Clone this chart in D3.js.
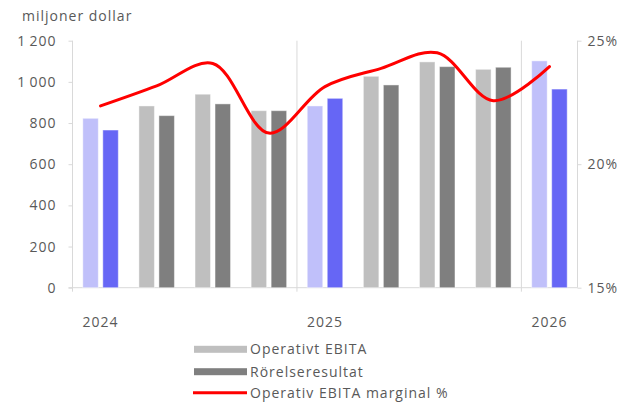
<!DOCTYPE html>
<html><head><meta charset="utf-8">
<script src="https://cdn.jsdelivr.net/npm/d3@7"></script>
<style>
html,body{margin:0;padding:0;background:#fff;}
text{font-family:"Open Sans",sans-serif;fill:#595959;letter-spacing:1px;}
</style></head>
<body>
<svg id="c" width="638" height="406"></svg>
<script>
const categories = ["2024 Q1","2024 Q2","2024 Q3","2024 Q4","2025 Q1","2025 Q2","2025 Q3","2025 Q4","2026 Q1"];
const yearLabels = ["2024","","","","2025","","","","2026"];
const operativtEbita = [823, 883, 940, 860, 883, 1027, 1097, 1061, 1102];
const rorelseresultat = [766, 836, 893, 860, 920, 985, 1074, 1071, 965];
const marginal = [22.36, 23.17, 24.08, 21.26, 23.14, 23.88, 24.51, 22.57, 23.95];
const leftTicks = [0, 200, 400, 600, 800, 1000, 1200];
const rightTicks = [15, 20, 25];
const highlighted = [true, false, false, false, true, false, false, false, true];
const seriesNames = ["Operativt EBITA", "Rörelseresultat", "Operativ EBITA marginal %"];

const svg = d3.select("#c");
const x0 = 72.5, x1 = 577.5, yTop = 40.7, yBot = 287.7;
const axisCol = "#d9d9d9";

const x = d3.scaleBand().domain(d3.range(categories.length)).range([x0, x1]).paddingInner(0).paddingOuter(0);
const xs = d3.scaleBand().domain([0, 1]).range([0, x.bandwidth()]).paddingInner(0.225).paddingOuter(0.515);
const y = d3.scaleLinear().domain([0, 1200]).range([yBot, yTop]);
const y2 = d3.scaleLinear().domain([15, 25]).range([yBot, yTop]);

// vertical year gridlines
[4, 8].forEach(i => {
  svg.append("line").attr("x1", x(i)).attr("x2", x(i)).attr("y1", yTop).attr("y2", yBot + 4)
    .attr("stroke", axisCol).attr("stroke-width", 1);
});

// left axis
const gL = svg.append("g").attr("transform", `translate(${x0},0)`)
  .call(d3.axisLeft(y).tickValues(leftTicks).tickSize(4).tickPadding(12)
    .tickFormat(d => d >= 1000 ? d3.format(",")(d).replace(",", "\u2009") : d));
gL.select(".domain").remove();
gL.selectAll(".tick line").attr("stroke", axisCol);
gL.selectAll(".tick text").style("font-size", "14px").attr("fill", "#595959").attr("font-family", "Open Sans");
svg.append("line").attr("x1", x0).attr("x2", x0).attr("y1", yTop).attr("y2", yBot + 4).attr("stroke", axisCol);

// right axis
const gR = svg.append("g").attr("transform", `translate(${x1},0)`)
  .call(d3.axisRight(y2).tickValues(rightTicks).tickSize(4).tickPadding(6).tickFormat(d => d + "%"));
gR.select(".domain").remove();
gR.selectAll(".tick line").attr("stroke", axisCol);
gR.selectAll(".tick text").style("font-size", "14px").attr("fill", "#595959").attr("font-family", "Open Sans");
svg.append("line").attr("x1", x1).attr("x2", x1).attr("y1", yTop).attr("y2", yBot).attr("stroke", axisCol);

// bottom axis line
svg.append("line").attr("x1", x0 - 4).attr("x2", x1).attr("y1", yBot).attr("y2", yBot).attr("stroke", axisCol);

// bars
const colors = [
  i => highlighted[i] ? "#c0c0fa" : "#bfbfbf",
  i => highlighted[i] ? "#6666f5" : "#7f7f7f"
];
[operativtEbita, rorelseresultat].forEach((vals, s) => {
  svg.append("g").selectAll("rect").data(vals).join("rect")
    .attr("x", (d, i) => x(i) + xs(s))
    .attr("width", xs.bandwidth())
    .attr("y", d => y(d))
    .attr("height", d => y(0) - y(d))
    .attr("fill", (d, i) => colors[s](i))
    .attr("stroke", "#ffffff").attr("stroke-opacity", 0.45).attr("stroke-width", 1);
});

// line
const line = d3.line().x((d, i) => x(i) + x.bandwidth() / 2).y(d => y2(d)).curve(d3.curveCatmullRom.alpha(0.5));
svg.append("path").datum(marginal).attr("d", line).attr("fill", "none")
  .attr("stroke", "#ff0000").attr("stroke-width", 3).attr("stroke-linecap", "round");

// x labels
svg.append("g").selectAll("text").data(yearLabels).join("text")
  .attr("x", (d, i) => x(i) + x.bandwidth() / 2)
  .attr("y", 327).attr("text-anchor", "middle").style("font-size", "14px")
  .text(d => d);

// title
svg.append("text").attr("x", 22).attr("y", 21).style("font-size", "14px").text("miljoner dollar");

// legend
const leg = [
  {name: seriesNames[0], type: "bar", color: "#bfbfbf", cy: 349.3},
  {name: seriesNames[1], type: "bar", color: "#7f7f7f", cy: 371.7},
  {name: seriesNames[2], type: "line", color: "#ff0000", cy: 392.7}
];
leg.forEach(l => {
  if (l.type === "bar") {
    svg.append("rect").attr("x", 194).attr("y", l.cy - 3.5).attr("width", 53).attr("height", 7).attr("fill", l.color);
  } else {
    svg.append("line").attr("x1", 193).attr("x2", 247).attr("y1", l.cy).attr("y2", l.cy)
      .attr("stroke", l.color).attr("stroke-width", 3);
  }
  svg.append("text").attr("x", 250).attr("y", l.cy + 5).style("font-size", "14px").text(l.name);
});
</script>
</body></html>
